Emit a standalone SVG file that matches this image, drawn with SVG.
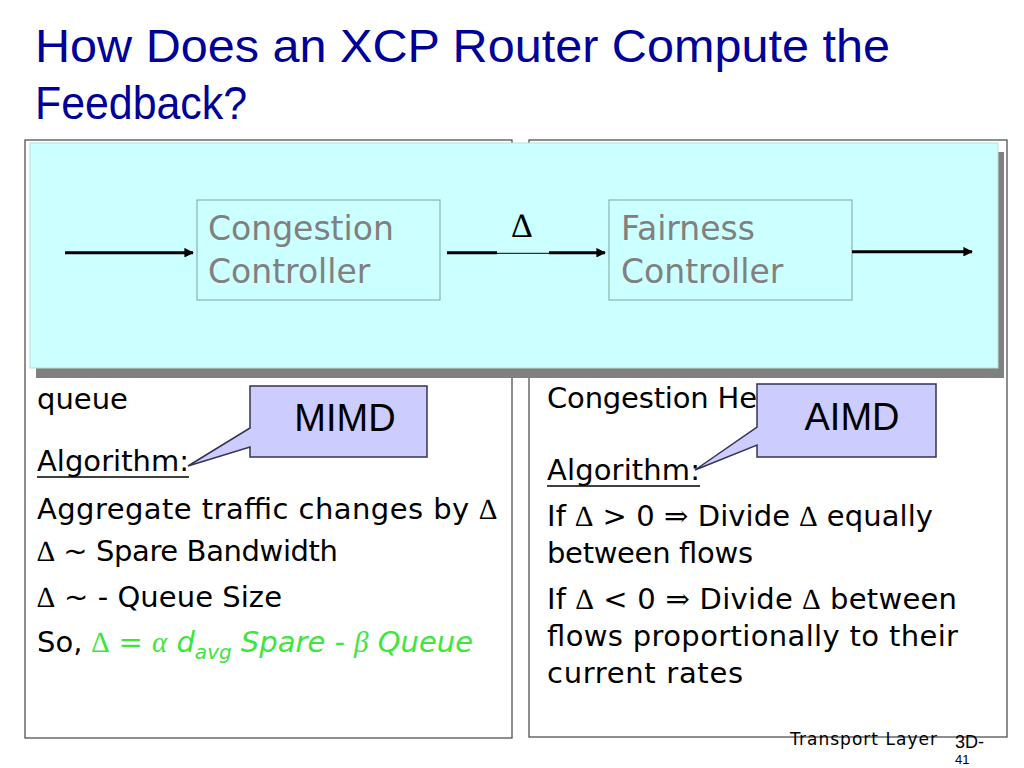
<svg xmlns="http://www.w3.org/2000/svg" width="1024" height="768" viewBox="0 0 1024 768">
<defs>
<style>
.title{font-family:"Liberation Sans",Arial,sans-serif;font-size:47px;fill:#000099}
.body{font-family:"DejaVu Sans","Liberation Sans",sans-serif;font-size:29px;fill:#000}
.sym{font-family:"Liberation Serif","DejaVu Serif",serif}
.ctl{font-family:"DejaVu Sans","Liberation Sans",sans-serif;font-size:33px;fill:#808080}
.ctlbox{fill:none;stroke:#7FA3A3;stroke-width:1}
.panel{fill:#fff;stroke:#444;stroke-width:1.2}
.callout{fill:#CCCCFF;stroke:#333355;stroke-width:1.5}
.callt{font-family:"Liberation Sans",Arial,sans-serif;font-size:38px;fill:#000;text-anchor:middle}
.conn{stroke:#000;stroke-width:3;fill:none}
.green{fill:#3CE63C;font-style:italic}
</style>
<marker id="ah" viewBox="0 0 10 10" refX="9" refY="5" markerWidth="3.2" markerHeight="3.2" orient="auto" markerUnits="strokeWidth">
<path d="M0,0 L10,5 L0,10 z" fill="#000"/>
</marker>
</defs>
<rect width="1024" height="768" fill="#fff"/>
<g id="title">
<text class="title" x="35" y="62" textLength="855" lengthAdjust="spacingAndGlyphs">How Does an XCP Router Compute the</text>
<text class="title" x="35" y="119" textLength="212" lengthAdjust="spacingAndGlyphs">Feedback?</text>
</g>
<g id="left-panel">
<rect class="panel" x="25" y="140" width="487" height="598"/>
<text class="body" x="37" y="409">queue</text>
<text class="body" x="37" y="471" textLength="152">Algorithm:</text>
<line x1="37" y1="477" x2="189" y2="477" stroke="#000" stroke-width="1.5"/>
<text class="body" x="37" y="519" textLength="460">Aggregate traffic changes by <tspan class="sym">∆</tspan></text>
<text class="body" x="37" y="561" textLength="301"><tspan class="sym">∆</tspan> ~ Spare Bandwidth</text>
<text class="body" x="37" y="607" textLength="245"><tspan class="sym">∆</tspan> ~ - Queue Size</text>
<text class="body" x="37" y="652" textLength="436">So, <tspan class="green"><tspan class="sym">∆</tspan> = <tspan class="sym">α</tspan> d<tspan font-size="20" dy="7">avg</tspan><tspan dy="-7"> Spare - </tspan><tspan class="sym">β</tspan> Queue</tspan></text>
</g>
<g id="right-panel">
<rect class="panel" x="529" y="140" width="478" height="597"/>
<text class="body" x="547" y="408" textLength="210">Congestion He</text>
<text class="body" x="547" y="480" textLength="153">Algorithm:</text>
<line x1="547" y1="486" x2="700" y2="486" stroke="#000" stroke-width="1.5"/>
<text class="body" x="547" y="526" textLength="386">If <tspan class="sym">∆</tspan> &gt; 0 <tspan class="sym">⇒</tspan> Divide <tspan class="sym">∆</tspan> equally</text>
<text class="body" x="547" y="563" textLength="206">between flows</text>
<text class="body" x="547" y="609" textLength="410">If <tspan class="sym">∆</tspan> &lt; 0 <tspan class="sym">⇒</tspan> Divide <tspan class="sym">∆</tspan> between</text>
<text class="body" x="547" y="646" textLength="411">flows proportionally to their</text>
<text class="body" x="547" y="683" textLength="196">current rates</text>
</g>
<g id="diagram-panel">
<rect x="36" y="152" width="968" height="226" fill="#808080"/>
<rect x="30" y="143" width="968" height="225" fill="#CCFFFF" stroke="#B5DEDE" stroke-width="1"/>
</g>
<g id="congestion-controller">
<rect class="ctlbox" x="197" y="200" width="243" height="100"/>
<text class="ctl" x="208" y="240">Congestion</text>
<text class="ctl" x="208" y="283">Controller</text>
</g>
<g id="fairness-controller">
<rect class="ctlbox" x="609" y="200" width="243" height="100"/>
<text class="ctl" x="621" y="240">Fairness</text>
<text class="ctl" x="621" y="283">Controller</text>
</g>
<g id="connectors">
<line class="conn" x1="65" y1="252.7" x2="193" y2="252.7" marker-end="url(#ah)"/>
<line class="conn" x1="447" y1="252.7" x2="497" y2="252.7"/>
<line x1="497" y1="253.3" x2="549" y2="253.3" stroke="#000" stroke-width="1"/>
<line class="conn" x1="549" y1="252.7" x2="605" y2="252.7" marker-end="url(#ah)"/>
<line class="conn" x1="852" y1="251.7" x2="972" y2="251.7" marker-end="url(#ah)"/>
<text x="522" y="237" font-family="Liberation Serif,serif" font-size="34" text-anchor="middle" fill="#000">∆</text>
</g>
<g id="mimd-callout">
<path class="callout" d="M250,386 H427 V457 H250 V447 L188,466 L250,428 Z"/>
<text class="callt" x="345" y="431">MIMD</text>
</g>
<g id="aimd-callout">
<path class="callout" d="M757,384 H936 V457 H757 V445 L695,470 L757,427 Z"/>
<text class="callt" x="852" y="430">AIMD</text>
</g>
<g id="footer">
<text x="790" y="745" font-family="DejaVu Sans,sans-serif" font-size="17" fill="#000" textLength="147">Transport Layer</text>
<text x="955" y="748" font-family="Liberation Sans,sans-serif" font-size="18" fill="#000">3D-</text>
<text x="955" y="764" font-family="Liberation Sans,sans-serif" font-size="13" fill="#000">41</text>
</g>
</svg>
